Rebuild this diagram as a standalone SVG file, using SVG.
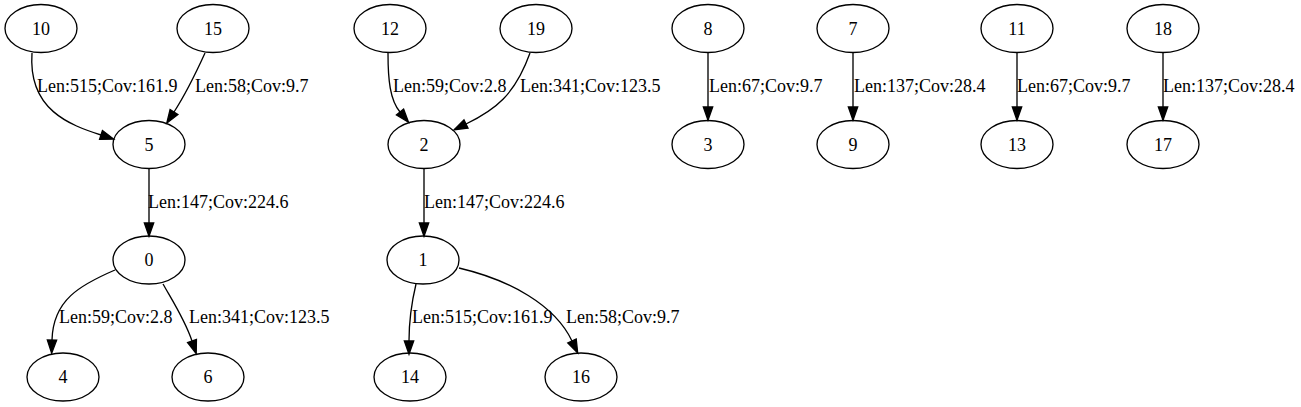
<svg xmlns="http://www.w3.org/2000/svg" width="1301" height="407" viewBox="0 0 1301 407">
<style>
.n ellipse{fill:none;stroke:#000;stroke-width:1.33}
text{font-family:"Liberation Serif","Times New Roman",serif;font-size:18px;fill:#000}
.n text{text-anchor:middle}
.e path{fill:none;stroke:#000;stroke-width:1.33;marker-end:url(#ah)}
</style>
<defs>
<marker id="ah" markerUnits="userSpaceOnUse" markerWidth="14" markerHeight="10" refX="0" refY="4.67" orient="auto" overflow="visible">
<path d="M0,0 L13.3,4.67 L0,9.33 z" fill="#000" stroke="#000" stroke-width="1.33"/>
</marker>
</defs>
<rect width="1301" height="407" fill="#fff"/>
<g id="edges" class="e">
<path d="M32,53 C28,110 70,125 101,135"/>
<path d="M205,53 C195,75 185,95 174,112"/>
<path d="M149,168 L149,223"/>
<path d="M115,270 C80,285 53,300 52,340"/>
<path d="M163,284 C172,300 185,320 192,341"/>
<path d="M388,53 C388,80 390,100 400,112"/>
<path d="M530,53 C515,95 495,110 466,124"/>
<path d="M424,168 L424,223"/>
<path d="M416,284 C411,305 409,322 409,341"/>
<path d="M459,268 C510,280 555,305 572,341"/>
<path d="M708,53 L708,107"/>
<path d="M853,53 L853,107"/>
<path d="M1017,53 L1017,107"/>
<path d="M1163,53 L1163,107"/>
<text x="37" y="92">Len:515;Cov:161.9</text>
<text x="195" y="92">Len:58;Cov:9.7</text>
<text x="148" y="208">Len:147;Cov:224.6</text>
<text x="59" y="323">Len:59;Cov:2.8</text>
<text x="189" y="323">Len:341;Cov:123.5</text>
<text x="393" y="92">Len:59;Cov:2.8</text>
<text x="520" y="92">Len:341;Cov:123.5</text>
<text x="424" y="208">Len:147;Cov:224.6</text>
<text x="412" y="323">Len:515;Cov:161.9</text>
<text x="566" y="323">Len:58;Cov:9.7</text>
<text x="709" y="92">Len:67;Cov:9.7</text>
<text x="854" y="92">Len:137;Cov:28.4</text>
<text x="1017" y="92">Len:67;Cov:9.7</text>
<text x="1163" y="92">Len:137;Cov:28.4</text>
</g>
<g id="n10" class="n"><ellipse cx="41" cy="28.5" rx="36" ry="24"/><text x="41" y="34.5">10</text></g>
<g id="n15" class="n"><ellipse cx="213" cy="28.5" rx="36" ry="24"/><text x="213" y="34.5">15</text></g>
<g id="n5" class="n"><ellipse cx="149" cy="144.5" rx="36" ry="24"/><text x="149" y="150.5">5</text></g>
<g id="n0" class="n"><ellipse cx="149" cy="260" rx="36" ry="24"/><text x="149" y="266">0</text></g>
<g id="n4" class="n"><ellipse cx="63" cy="377" rx="36" ry="24"/><text x="63" y="383">4</text></g>
<g id="n6" class="n"><ellipse cx="208" cy="377" rx="36" ry="24"/><text x="208" y="383">6</text></g>
<g id="n12" class="n"><ellipse cx="390" cy="28.5" rx="36" ry="24"/><text x="390" y="34.5">12</text></g>
<g id="n19" class="n"><ellipse cx="536" cy="28.5" rx="36" ry="24"/><text x="536" y="34.5">19</text></g>
<g id="n2" class="n"><ellipse cx="424" cy="144.5" rx="36" ry="24"/><text x="424" y="150.5">2</text></g>
<g id="n1" class="n"><ellipse cx="423" cy="260" rx="36" ry="24"/><text x="423" y="266">1</text></g>
<g id="n14" class="n"><ellipse cx="410" cy="377" rx="36" ry="24"/><text x="410" y="383">14</text></g>
<g id="n16" class="n"><ellipse cx="581" cy="377" rx="36" ry="24"/><text x="581" y="383">16</text></g>
<g id="n8" class="n"><ellipse cx="708" cy="28.5" rx="36" ry="24"/><text x="708" y="34.5">8</text></g>
<g id="n3" class="n"><ellipse cx="708" cy="144.5" rx="36" ry="24"/><text x="708" y="150.5">3</text></g>
<g id="n7" class="n"><ellipse cx="853" cy="28.5" rx="36" ry="24"/><text x="853" y="34.5">7</text></g>
<g id="n9" class="n"><ellipse cx="853" cy="144.5" rx="36" ry="24"/><text x="853" y="150.5">9</text></g>
<g id="n11" class="n"><ellipse cx="1017" cy="28.5" rx="36" ry="24"/><text x="1017" y="34.5">11</text></g>
<g id="n13" class="n"><ellipse cx="1017" cy="144.5" rx="36" ry="24"/><text x="1017" y="150.5">13</text></g>
<g id="n18" class="n"><ellipse cx="1163" cy="28.5" rx="36" ry="24"/><text x="1163" y="34.5">18</text></g>
<g id="n17" class="n"><ellipse cx="1163" cy="144.5" rx="36" ry="24"/><text x="1163" y="150.5">17</text></g>
</svg>
